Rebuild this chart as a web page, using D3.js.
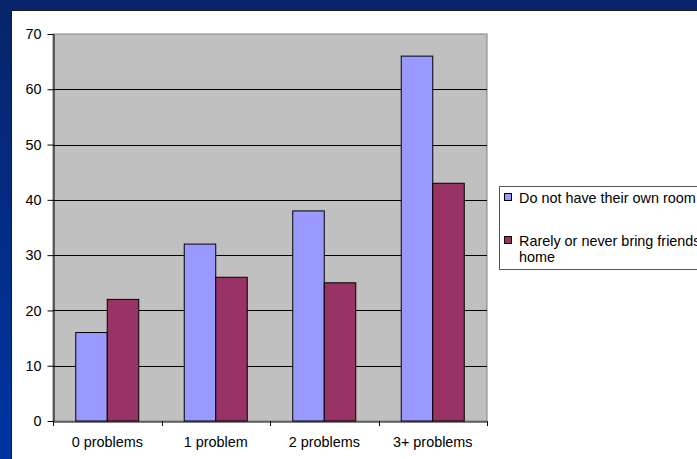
<!DOCTYPE html>
<html>
<head>
<meta charset="utf-8">
<script src="https://cdn.jsdelivr.net/npm/d3@7"></script>
<style>
  html, body { margin: 0; padding: 0; background: #fff; }
  svg { display: block; }
  text { font-family: "Liberation Sans", Arial, sans-serif; fill: #000; }
</style>
</head>
<body>
<svg id="chart" width="697" height="459"></svg>
<script>
// Chart data
const categories = ["0 problems", "1 problem", "2 problems", "3+ problems"];
const seriesNames = ["Do not have their own room", "Rarely or never bring friends home"];
const ownRoom = [16, 32, 38, 66];
const friendsHome = [22, 26, 25, 43];
const yTicks = [0, 10, 20, 30, 40, 50, 60, 70];

const seriesValues = [ownRoom, friendsHome];
const colors = ["#9999ff", "#993366"];
const FONT = 14.4;

const W = 697, H = 459;
const svg = d3.select("#chart");

// Slide background: blue frame with white panel
const defs = svg.append("defs");
const grad = defs.append("linearGradient").attr("id", "bg").attr("x1", 0).attr("y1", 0).attr("x2", 0).attr("y2", 1);
grad.append("stop").attr("offset", "0%").attr("stop-color", "#07246a");
grad.append("stop").attr("offset", "100%").attr("stop-color", "#0034a2");
svg.append("rect").attr("width", W).attr("height", H).attr("fill", "url(#bg)");
svg.append("rect").attr("x", 11).attr("y", 10).attr("width", W - 11).attr("height", H - 10).attr("fill", "#1a1a2a");
svg.append("rect").attr("x", 12).attr("y", 11).attr("width", W - 12).attr("height", H - 11).attr("fill", "#ffffff");

// Plot area
const plot = { left: 53, top: 34, right: 487, bottom: 421 };

const x0 = d3.scaleBand().domain(categories).range([plot.left, plot.right]).paddingInner(0).paddingOuter(0);
const x1 = d3.scaleBand().domain(d3.range(seriesValues.length)).range([0, x0.bandwidth()]).paddingInner(0).paddingOuter(0.722);
const y = d3.scaleLinear().domain([0, 70]).range([plot.bottom, plot.top]);

svg.append("rect")
  .attr("x", plot.left).attr("y", plot.top)
  .attr("width", plot.right - plot.left).attr("height", plot.bottom - plot.top)
  .attr("fill", "#c0c0c0").attr("stroke", "#808080").attr("stroke-width", 1);

// Gridlines
svg.append("g").selectAll("line").data(yTicks.filter(t => t > 0 && t < 70)).join("line")
  .attr("x1", plot.left).attr("x2", plot.right)
  .attr("y1", d => Math.round(y(d)) + 0.5).attr("y2", d => Math.round(y(d)) + 0.5)
  .attr("stroke", "#000").attr("stroke-width", 1);

// Bars
const groups = svg.append("g").selectAll("g").data(categories).join("g")
  .attr("transform", d => `translate(${x0(d)},0)`);
groups.selectAll("rect")
  .data((d, i) => seriesValues.map((vals, s) => ({ s, v: vals[i] })))
  .join("rect")
  .attr("x", d => x1(d.s))
  .attr("y", d => y(d.v))
  .attr("width", x1.bandwidth())
  .attr("height", d => y(0) - y(d.v))
  .attr("fill", d => colors[d.s])
  .attr("stroke", "#000").attr("stroke-width", 1);

// Y axis
const yAxis = d3.axisLeft(y).tickValues(yTicks).tickSize(6).tickPadding(5).tickSizeOuter(0);
const gy = svg.append("g").attr("transform", `translate(${plot.left + 0.5},0)`).call(yAxis);
gy.select(".domain").attr("stroke", "#000");
gy.selectAll(".tick line").attr("stroke", "#000").attr("x2", -6);
gy.selectAll(".tick text").attr("font-size", FONT).attr("font-family", "Liberation Sans, Arial, sans-serif").attr("dx", -1);

// X axis
const xAxis = d3.axisBottom(x0).tickSize(0).tickPadding(15).tickSizeOuter(0);
const gx = svg.append("g").attr("transform", `translate(0,${plot.bottom + 0.5})`).call(xAxis);
gx.select(".domain").attr("stroke", "#000");
gx.selectAll(".tick text").attr("font-size", FONT).attr("font-family", "Liberation Sans, Arial, sans-serif");
// Category separator ticks
svg.append("g").selectAll("line").data(categories.concat(["end"])).join("line")
  .attr("x1", (d, i) => Math.round(plot.left + i * x0.step()) + 0.5)
  .attr("x2", (d, i) => Math.round(plot.left + i * x0.step()) + 0.5)
  .attr("y1", plot.bottom).attr("y2", plot.bottom + 5)
  .attr("stroke", "#000");

// Legend
const legend = svg.append("g");
legend.append("rect").attr("x", 499.5).attr("y", 186.5).attr("width", 220).attr("height", 83)
  .attr("fill", "#fff").attr("stroke", "#555").attr("stroke-width", 1);
const legendLines = [["Do not have their own room"], ["Rarely or never bring friends", "home"]];
const legendY = [203, 246];
legendLines.forEach((lines, i) => {
  legend.append("rect").attr("x", 504.5).attr("y", legendY[i] - 9.5).attr("width", 7).attr("height", 7)
    .attr("fill", colors[i]).attr("stroke", "#000");
  lines.forEach((t, j) => {
    legend.append("text").attr("x", 519).attr("y", legendY[i] + j * 16)
      .attr("font-size", FONT).text(t);
  });
});
</script>
</body>
</html>
